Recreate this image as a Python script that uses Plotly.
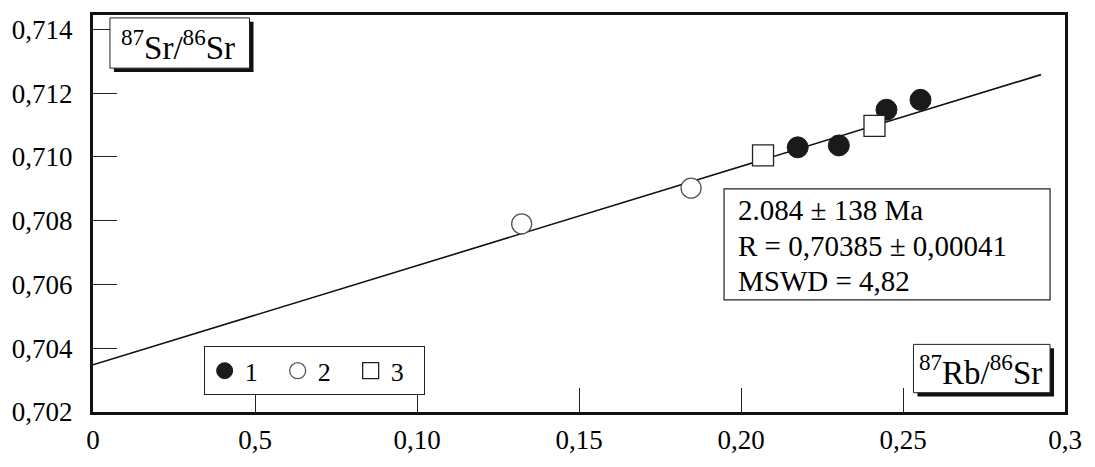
import plotly.graph_objects as go

# ---- data ----
s1_x = [0.2175, 0.2302, 0.2449, 0.2554]
s1_y = [0.71030, 0.71036, 0.71148, 0.71179]
s2_x = [0.1323, 0.1846]
s2_y = [0.70790, 0.70902]
s3_x = [0.2068, 0.2412]
s3_y = [0.71005, 0.71097]
iso_x = [0.0, 0.2926]
iso_y = [0.70348, 0.71258]

x_ticks = [0, 0.05, 0.10, 0.15, 0.20, 0.25, 0.30]
x_ticktext = ["0", "0,5", "0,10", "0,15", "0,20", "0,25", "0,3"]
y_ticks = [0.702, 0.704, 0.706, 0.708, 0.710, 0.712, 0.714]
y_ticktext = ["0,702", "0,704", "0,706", "0,708", "0,710", "0,712", "0,714"]
legend_names = ["1", "2", "3"]
info_lines = ["2.084 ± 138 Ma", "R = 0,70385 ± 0,00041", "MSWD = 4,82"]

FONT = "Liberation Serif"
W, H = 1095, 467
ML, MR, MT, MB = 90, 30, 12, 44
PW, PH = W - ML - MR, H - MT - MB


def px(x):
    return (x - ML) / PW


def py(y):
    return (H - MB - y) / PH


fig = go.Figure()
fig.add_trace(go.Scatter(x=iso_x, y=iso_y, mode="lines",
                         line=dict(color="#111", width=1.6), showlegend=False))
fig.add_trace(go.Scatter(x=s1_x, y=s1_y, mode="markers", name=legend_names[0],
                         marker=dict(symbol="circle", size=21, color="#1a1a1a",
                                     line=dict(color="#1a1a1a", width=1))))
fig.add_trace(go.Scatter(x=s2_x, y=s2_y, mode="markers", name=legend_names[1],
                         marker=dict(symbol="circle", size=20, color="white",
                                     line=dict(color="#555", width=1.3))))
fig.add_trace(go.Scatter(x=s3_x, y=s3_y, mode="markers", name=legend_names[2],
                         marker=dict(symbol="square", size=21, color="white",
                                     line=dict(color="#222", width=1.3))))

shapes = []
annotations = []


def shadow_box(x0, y0, x1, y1, off=4):
    shapes.append(dict(type="rect", xref="paper", yref="paper", layer="above",
                       x0=px(x0 + off), x1=px(x1 + off), y0=py(y0 + off), y1=py(y1 + off),
                       fillcolor="#111", line=dict(width=0)))
    shapes.append(dict(type="rect", xref="paper", yref="paper", layer="above",
                       x0=px(x0), x1=px(x1), y0=py(y0), y1=py(y1),
                       fillcolor="white", line=dict(color="#222", width=1)))


# y label box
shadow_box(107, 15, 247, 67)
annotations.append(dict(xref="paper", yref="paper", x=px(175), y=py(43),
                        text="<sup>87</sup>Sr/<sup>86</sup>Sr", showarrow=False,
                        font=dict(family=FONT, size=33, color="black"),
                        xanchor="center", yanchor="middle"))
# x label box
shadow_box(913, 353, 1050, 403)
annotations.append(dict(xref="paper", yref="paper", x=px(980), y=py(380),
                        text="<sup>87</sup>Rb/<sup>86</sup>Sr", showarrow=False,
                        font=dict(family=FONT, size=33, color="black"),
                        xanchor="center", yanchor="middle"))
# info box
shapes.append(dict(type="rect", xref="paper", yref="paper", layer="above",
                   x0=px(723), x1=px(1050), y0=py(192), y1=py(307),
                   fillcolor="white", line=dict(color="#222", width=1.2)))
for i, (t, yy) in enumerate(zip(info_lines, [214, 251, 287])):
    annotations.append(dict(xref="paper", yref="paper", x=px(735), y=py(yy),
                            text=t, showarrow=False,
                            font=dict(family=FONT, size=29, color="black"),
                            xanchor="left", yanchor="middle"))

fig.update_layout(
    width=W, height=H,
    margin=dict(l=ML, r=MR, t=MT, b=MB),
    paper_bgcolor="white", plot_bgcolor="white",
    font=dict(family=FONT, color="black", size=27),
    shapes=shapes, annotations=annotations,
    showlegend=True,
    legend=dict(orientation="h", x=px(201), y=py(355), xanchor="left", yanchor="top",
                bgcolor="white", bordercolor="#222", borderwidth=1,
                font=dict(family=FONT, size=26, color="black"),
                itemwidth=30, tracegroupgap=0,
                entrywidth=28, entrywidthmode="pixels"),
    xaxis=dict(range=[0, 0.3], tickvals=x_ticks, ticktext=x_ticktext,
               ticks="inside", ticklen=24, tickwidth=1, tickcolor="#222",
               showline=True, linecolor="#111", linewidth=3, mirror=True,
               showgrid=False, zeroline=False, ticklabelstandoff=2,
               tickfont=dict(family=FONT, size=27)),
    yaxis=dict(range=[0.702, 0.71445], tickvals=y_ticks, ticktext=y_ticktext,
               ticks="inside", ticklen=24, tickwidth=1, tickcolor="#222",
               showline=True, linecolor="#111", linewidth=3, mirror=True,
               showgrid=False, zeroline=False, ticklabelstandoff=12,
               tickfont=dict(family=FONT, size=27)),
)

fig.write_html("out.html", config={"displayModeBar": False},
               post_script="document.body.style.margin='0px';document.body.style.overflow='hidden';")
